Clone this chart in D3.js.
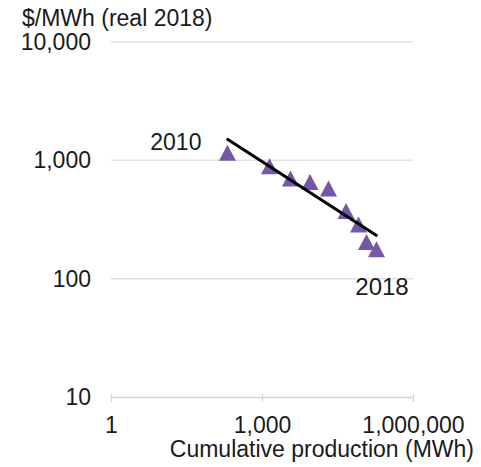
<!DOCTYPE html>
<html>
<head>
<meta charset="utf-8">
<script src="https://cdn.jsdelivr.net/npm/d3@7"></script>
<style>
  html, body { margin: 0; padding: 0; background: #fff; }
  svg text { font-family: "Liberation Sans", Arial, sans-serif; fill: #1a1a1a; }
</style>
</head>
<body>
<svg id="chart" width="481" height="467"></svg>
<script>
// Cumulative production (MWh) and cost ($/MWh, real 2018), 2010 to 2018
const years = [2010, 2011, 2012, 2013, 2014, 2015, 2016, 2017, 2018];
const cumulativeMWh = [206, 1410, 3680, 9000, 20950, 46700, 82700, 119000, 188000];
const costPerMWh = [1161, 893, 701, 655, 577, 373, 287, 204, 177];

// Fitted learning curve, end points
const trendX = [199, 195500];
const trendY = [1523, 229];

const xTicks = [1, 1000, 1000000];
const yTicks = [10, 100, 1000, 10000];

const yTitle = "$/MWh (real 2018)";
const xTitle = "Cumulative production (MWh)";

const svg = d3.select("#chart");
const fmt = d3.format(",");

const x = d3.scaleLog().domain([1, 1000000]).range([111, 413]);
const y = d3.scaleLog().domain([10, 10000]).range([397, 42]);

// horizontal gridlines
svg.append("g")
  .selectAll("line")
  .data(yTicks.filter(d => d > 10))
  .join("line")
  .attr("x1", x(1)).attr("x2", x(1000000))
  .attr("y1", d => y(d)).attr("y2", d => y(d))
  .attr("stroke", "#e2e2e2")
  .attr("stroke-width", 1.5);

// y-axis labels
svg.append("g")
  .selectAll("text")
  .data(yTicks)
  .join("text")
  .attr("x", 91)
  .attr("y", d => y(d))
  .attr("dy", "0.35em")
  .attr("text-anchor", "end")
  .attr("font-size", 23)
  .text(d => fmt(d));

// x axis
const xAxis = d3.axisBottom(x)
  .tickValues(xTicks)
  .tickFormat(fmt)
  .tickSizeInner(5)
  .tickSizeOuter(0)
  .tickPadding(15);

const gx = svg.append("g")
  .attr("transform", `translate(0,${y(10)})`)
  .call(xAxis);
gx.select(".domain").attr("stroke", "#d4d4d4").attr("stroke-width", 1.5);
gx.selectAll(".tick line").attr("stroke", "#d4d4d4").attr("stroke-width", 1.2).attr("y1", -3);
gx.selectAll(".tick text")
  .attr("font-size", 23)
  .attr("font-family", "Liberation Sans, Arial, sans-serif")
  .attr("fill", "#1a1a1a");

// axis titles
svg.append("text")
  .attr("x", 22).attr("y", 26)
  .attr("font-size", 23)
  .text(yTitle);

svg.append("text")
  .attr("x", 474).attr("y", 457)
  .attr("text-anchor", "end")
  .attr("font-size", 23)
  .text(xTitle);

// data points: purple triangles
svg.append("g")
  .selectAll("path")
  .data(years.map((yr, i) => ({ yr, mwh: cumulativeMWh[i], cost: costPerMWh[i] })))
  .join("path")
  .attr("transform", d => `translate(${x(d.mwh)},${y(d.cost)})`)
  .attr("d", "M0,-8L8.5,8L-8.5,8Z")
  .attr("fill", "#7656a8");

// trend line
svg.append("line")
  .attr("x1", x(trendX[0])).attr("y1", y(trendY[0]))
  .attr("x2", x(trendX[1])).attr("y2", y(trendY[1]))
  .attr("stroke", "#000")
  .attr("stroke-width", 3);

// year annotations
svg.append("text")
  .attr("x", x(cumulativeMWh[0]) - 26)
  .attr("y", 150)
  .attr("text-anchor", "end")
  .attr("font-size", 23)
  .text(years[0]);

svg.append("text")
  .attr("x", 382)
  .attr("y", 295)
  .attr("text-anchor", "middle")
  .attr("font-size", 24)
  .text(years[years.length - 1]);
</script>
</body>
</html>
